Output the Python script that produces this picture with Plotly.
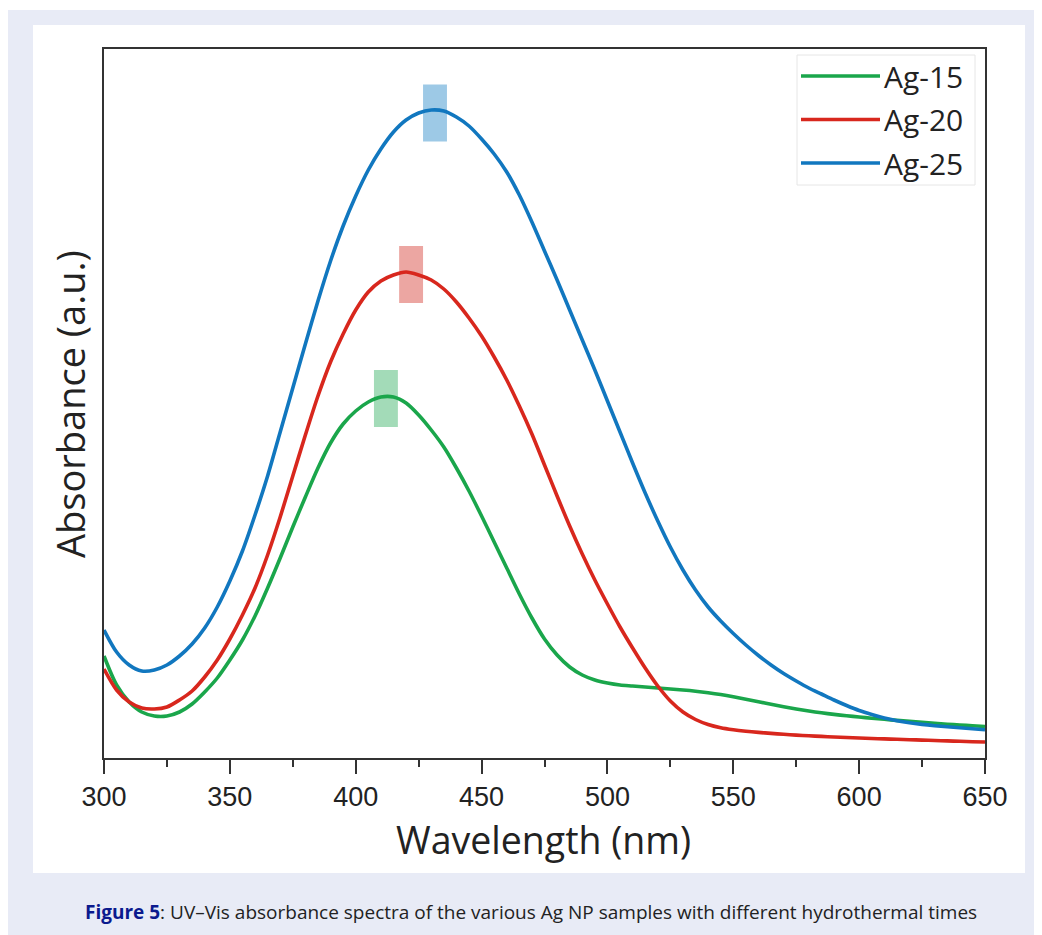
import plotly.graph_objects as go

# ---------------- data (absorbance, arbitrary units) ----------------
wavelength = [300, 305, 310, 315, 320, 325, 330, 335, 340, 345, 350, 355, 360, 365, 370, 375,
              380, 385, 390, 395, 400, 405, 410, 415, 420, 425, 430, 435, 440, 445, 450, 455,
              460, 465, 470, 475, 480, 485, 490, 495, 500, 505, 510, 515, 520, 525, 530, 535,
              540, 545, 550, 555, 560, 565, 570, 575, 580, 585, 590, 595, 600, 605, 610, 615,
              620, 625, 630, 635, 640, 645, 650]

ag15 = [102, 73, 56, 46, 42, 42, 46, 54, 66, 80, 98, 118, 142, 170, 200, 231,
        261, 290, 315, 334, 347, 356, 361, 361, 355, 343, 328, 311, 290, 267, 242, 216,
        190, 164, 140, 119, 103, 91, 83, 78, 75, 73, 72, 71, 70, 69, 68, 66.8,
        65.3, 63.5, 61.3, 58.8, 56.3, 53.8, 51.3, 49, 47, 45.2, 43.6, 42.2, 41, 39.8, 38.7, 37.6,
        36.6, 35.6, 34.7, 33.8, 33, 32.2, 31.5]

ag20 = [89, 68, 56, 50, 49, 51, 58, 67, 81, 98, 119, 143, 170, 203, 241, 282,
        323, 362, 396, 424, 448, 466, 477, 483, 486, 483, 478, 469, 456, 440, 422, 401,
        378, 352, 324, 293, 262, 232, 204, 178, 154, 131, 110, 90, 72, 57, 46, 38.5,
        33.5, 30.3, 28.3, 26.8, 25.6, 24.6, 23.7, 22.9, 22.2, 21.6, 21.0, 20.5, 20.0, 19.5, 19.1, 18.7,
        18.3, 17.9, 17.5, 17.1, 16.7, 16.3, 16.0]

ag25 = [128, 106, 93, 87, 88, 93, 102, 114, 130, 151, 177, 207, 243, 282, 326, 370,
        414, 457, 497, 532, 562, 588, 609, 626, 638, 645, 648, 647, 641, 632, 619, 604,
        586, 563, 536, 507, 478, 448, 418, 388, 357, 326, 295, 265, 237, 211, 188, 168,
        151, 137, 124.5, 113, 102.5, 93, 84.5, 77, 70, 64, 58, 52.5, 47.5, 43.5, 40, 37.3,
        35.2, 33.6, 32.3, 31.2, 30.2, 29.2, 28.3]

series_names = ["Ag-15", "Ag-20", "Ag-25"]
series_values = [ag15, ag20, ag25]
peak_nm = [412.0, 422.0, 431.5]
peak_abs = [359.5, 483.5, 645.0]

y_range = [0, 709]
x_ticks = [300, 350, 400, 450, 500, 550, 600, 650]

line_colors = ["#1aa64b", "#d8271d", "#1177bf"]
box_colors = ["#a3dbb8", "#eca6a2", "#9dc9e6"]

caption = ('<b><span style="color:#0b1a8e">Figure 5</span></b>: UV\u2013Vis absorbance spectra '
           'of the various Ag NP samples with different hydrothermal times')

# ---------------- figure ----------------
OFF = 8                      # page body margin
W, H = 1034, 927
L, T = 96, 41
pw, ph = 881, 709
R, B = W - L - pw, H - T - ph


def px(sx):                  # screen x -> paper x
    return (sx - OFF - L) / pw


def py(sy):                  # screen y -> paper y
    return (OFF + T + ph - sy) / ph


fig = go.Figure()

for name, vals, col in zip(series_names, series_values, line_colors):
    fig.add_trace(go.Scatter(x=wavelength, y=vals, mode="lines", name=name,
                             line=dict(color=col, width=3.6, shape="spline", smoothing=0.8),
                             showlegend=False))

shapes = []
shapes.append(dict(type="rect", xref="paper", yref="paper", layer="below",
                   x0=px(7), x1=px(1050), y0=py(945), y1=py(10),
                   fillcolor="#e8ebf6", line=dict(width=0)))
shapes.append(dict(type="rect", xref="paper", yref="paper", layer="below",
                   x0=px(33), x1=px(1025), y0=py(873), y1=py(25),
                   fillcolor="white", line=dict(width=0)))
half_w, half_h = 4.75, 28.5
for xn, ya, bc in zip(peak_nm, peak_abs, box_colors):
    shapes.append(dict(type="rect", xref="x", yref="y", layer="below",
                       x0=xn - half_w, x1=xn + half_w, y0=ya - half_h, y1=ya + half_h,
                       fillcolor=bc, line=dict(width=0)))
shapes.append(dict(type="rect", xref="paper", yref="paper",
                   x0=px(797), x1=px(975), y0=py(185), y1=py(55),
                   fillcolor="rgba(0,0,0,0)", line=dict(color="#e6e6e6", width=1)))
annotations = []
for i, (name, col) in enumerate(zip(series_names, line_colors)):
    yy = py(76 + i * 43.5)
    shapes.append(dict(type="line", xref="paper", yref="paper",
                       x0=px(801), x1=px(880), y0=yy, y1=yy,
                       line=dict(color=col, width=3.6)))
    annotations.append(dict(xref="paper", yref="paper", x=px(882), y=yy,
                            xanchor="left", yanchor="middle", showarrow=False,
                            text=name, font=dict(family="Open Sans", size=30, color="#222")))

annotations.append(dict(xref="paper", yref="paper", x=px(543.5), y=py(839),
                        xanchor="center", yanchor="middle", showarrow=False,
                        text="Wavelength (nm)",
                        font=dict(family="Open Sans", size=37.5, color="#222")))
annotations.append(dict(xref="paper", yref="paper", x=px(70), y=py(404),
                        xanchor="center", yanchor="middle", showarrow=False, textangle=-90,
                        text="Absorbance (a.u.)",
                        font=dict(family="Open Sans", size=38, color="#222")))
annotations.append(dict(xref="paper", yref="paper", x=px(83), y=py(912),
                        xanchor="left", yanchor="middle", showarrow=False,
                        text=caption,
                        font=dict(family="Open Sans", size=19, color="#222")))

fig.update_layout(
    width=W, height=H,
    margin=dict(l=L, r=R, t=T, b=B, pad=0),
    paper_bgcolor="white", plot_bgcolor="white",
    shapes=shapes, annotations=annotations,
    showlegend=False,
    xaxis=dict(range=[300, 650], tickvals=x_ticks, ticktext=[str(v) for v in x_ticks],
               ticks="outside", ticklen=14, tickwidth=2, tickcolor="#333",
               showline=True, linecolor="#333", linewidth=2, mirror=True,
               showgrid=False, zeroline=False,
               tickfont=dict(family="Liberation Sans", size=27, color="#222"),
               minor=dict(dtick=25, tick0=300, ticks="outside", ticklen=7,
                          tickwidth=2, tickcolor="#333", showgrid=False)),
    yaxis=dict(range=y_range, showticklabels=False, ticks="",
               showline=True, linecolor="#333", linewidth=2, mirror=True,
               showgrid=False, zeroline=False),
)

fig.write_html("out.html")
